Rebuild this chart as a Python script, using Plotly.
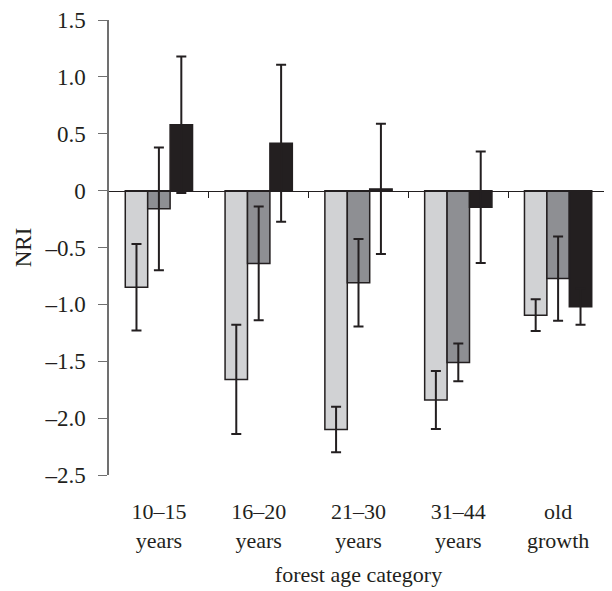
import plotly.graph_objects as go

categories = ["10–15<br>years", "16–20<br>years", "21–30<br>years", "31–44<br>years", "old<br>growth"]
series_light = [-0.85, -1.66, -2.10, -1.84, -1.095]
err_light = [0.38, 0.48, 0.20, 0.255, 0.14]
series_mid = [-0.16, -0.64, -0.81, -1.51, -0.773]
err_mid = [0.54, 0.50, 0.385, 0.165, 0.37]
series_dark = [0.58, 0.416, 0.015, -0.146, -1.02]
err_dark = [0.60, 0.69, 0.572, 0.49, 0.16]
colors = ["#d1d2d4", "#8e8f93", "#231f20"]

y_ticks = [1.5, 1.0, 0.5, 0, -0.5, -1.0, -1.5, -2.0, -2.5]
y_ticktext = ["1.5", "1.0", "0.5", "0", "–0.5", "–1.0", "–1.5", "–2.0", "–2.5"]
group_bounds = [0.5, 1.5, 2.5, 3.5, 4.5]

x = list(range(len(categories)))
edge = "#231f20"
FONT = "Liberation Serif, Times New Roman, serif"

fig = go.Figure()
for vals, errs, col in [(series_light, err_light, colors[0]),
                        (series_mid, err_mid, colors[1]),
                        (series_dark, err_dark, colors[2])]:
    fig.add_trace(go.Bar(
        x=x, y=vals,
        marker=dict(color=col, line=dict(color=edge, width=1.5)),
        error_y=dict(type="data", array=errs, visible=True,
                     color=edge, thickness=2, width=5),
        showlegend=False,
    ))

# invisible trace to carry the zero-line axis
fig.add_trace(go.Scatter(x=[0], y=[0], xaxis="x2", mode="markers",
                         marker=dict(opacity=0), showlegend=False, hoverinfo="skip"))

fig.update_layout(
    width=612, height=591,
    margin=dict(l=101, r=12, t=12, b=124),
    paper_bgcolor="white", plot_bgcolor="white",
    barmode="group", bargap=0.326, bargroupgap=0,
    font=dict(family=FONT, size=23, color="#231f20"),
    xaxis=dict(
        range=[-0.5, 4.5], tickmode="array", tickvals=x, ticktext=categories,
        tickfont=dict(size=22),
        showline=False, ticks="", showgrid=False, zeroline=False,
        ticklabelstandoff=21, automargin=False,
        title=dict(text="forest age category", font=dict(size=22), standoff=15),
    ),
    xaxis2=dict(
        range=[-0.5, 4.5], overlaying="x", anchor="free", position=0.625,
        side="bottom", automargin=False,
        tickmode="array", tickvals=group_bounds, showticklabels=False,
        ticks="outside", ticklen=6, tickwidth=1.3, tickcolor=edge,
        showline=True, linecolor=edge, linewidth=1.3,
        showgrid=False, zeroline=False,
    ),
    yaxis=dict(
        range=[-2.5, 1.5], tickmode="array", tickvals=y_ticks, ticktext=y_ticktext,
        ticks="outside", ticklen=9, tickwidth=1.3, tickcolor="#707070",
        showline=True, linecolor="#707070", linewidth=1.5,
        showgrid=False, zeroline=False, ticklabelstandoff=8, automargin=False,
        title=dict(text="NRI", font=dict(size=23), standoff=6),
    ),
)

fig.write_html("out.html")
